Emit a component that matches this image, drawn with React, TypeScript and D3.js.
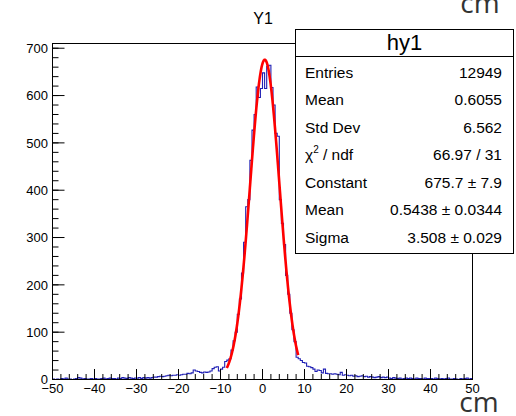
import React from "react";
import * as d3 from "d3";

// ---------- data ----------
const chartTitle = "Y1";
const histName = "hy1";
const xDomain = [-50, 50];
const yDomain = [0, 710];
const binWidth = 0.5;
const counts = [
  1, 0, 1, 0, 2, 1, 3, 1, 1, 0, 1, 2, 4, 3, 1, 2, 1, 1, 2, 1,
  2, 1, 1, 2, 3, 1, 2, 3, 2, 2, 1, 3, 2, 4, 3, 2, 4, 3, 2, 3,
  3, 4, 2, 4, 3, 4, 3, 4, 5, 5, 6, 7, 6, 7, 8, 9, 8, 9, 9, 10,
  9, 10, 11, 11, 13, 12, 14, 20, 18, 17, 15, 14, 16, 15, 16, 18, 23, 26, 27, 18,
  22, 26, 38, 41, 44, 62, 82, 100, 138, 170, 225, 290, 365, 380, 463, 527, 560, 618, 596, 615,
  648, 615, 662, 664, 617, 580, 520, 514, 380, 330, 285, 220, 180, 140, 105, 80, 47, 44, 40, 36,
  35, 28, 27, 25, 22, 17, 20, 19, 14, 22, 13, 12, 12, 11, 12, 11, 10, 15, 9, 10,
  9, 8, 9, 7, 8, 6, 7, 8, 6, 7, 5, 6, 5, 4, 5, 6, 4, 5, 4, 5,
  3, 2, 4, 3, 2, 3, 1, 2, 3, 2, 3, 2, 1, 3, 2, 2, 1, 3, 2, 2,
  2, 1, 3, 2, 1, 2, 1, 2, 3, 1, 1, 2, 1, 0, 2, 1, 2, 3, 1, 2,
];
// gaussian fit: constant, mean, sigma
const fitParams = [675.7, 0.5438, 3.508];
const fitRange = [-8.5, 8.5];
const xMajorTicks = [-50, -40, -30, -20, -10, 0, 10, 20, 30, 40, 50];
const xMinorStep = 2;
const yMajorTicks = [0, 100, 200, 300, 400, 500, 600, 700];
const yMinorStep = 20;
const statsLabels = ["Entries", "Mean", "Std Dev", "CHI2", "Constant", "Mean", "Sigma"];
const statsValues = ["12949", "0.6055", "6.562", "66.97 / 31", "675.7 ± 7.9", "0.5438 ± 0.0344", "3.508 ± 0.029"];
const unitLabel = "cm";

// ---------- layout ----------
const W = 516;
const H = 416;
const frame = { left: 52.5, right: 472.5, top: 43.5, bottom: 379.5 };
const box = { left: 295.5, right: 513.5, top: 29.5, bottom: 253.5, head: 56.5 };
const FONT = "'Liberation Sans', Arial, Helvetica, sans-serif";

const fmt = (v: number) => (v < 0 ? "\u2212" + Math.abs(v) : String(v));

export default function App() {
  const x = d3.scaleLinear().domain(xDomain).range([frame.left, frame.right]);
  const y = d3.scaleLinear().domain(yDomain).range([frame.bottom, frame.top]);

  const pts: [number, number][] = counts.map((c, i) => [xDomain[0] + i * binWidth, c]);
  pts.push([xDomain[0] + counts.length * binWidth, counts[counts.length - 1]]);
  const histLine = d3
    .line<[number, number]>()
    .x((d) => x(d[0]))
    .y((d) => y(d[1]))
    .curve(d3.curveStepAfter);

  const [A, mu, sig] = fitParams;
  const fitXs = d3.range(0, 301).map((k) => fitRange[0] + ((fitRange[1] - fitRange[0]) * k) / 300);
  const fitLine = d3
    .line<number>()
    .x((d) => x(d))
    .y((d) => y(A * Math.exp(-0.5 * ((d - mu) / sig) ** 2)));

  const xMinor = d3.range(xDomain[0], xDomain[1] + 0.001, xMinorStep);
  const yMinor = d3.range(yDomain[0], yDomain[1], yMinorStep);

  const rowY0 = 77.5;
  const rowStep = 27.5;

  return (
    <svg
      width={W}
      height={H}
      style={{ position: "absolute", left: 0, top: 0, background: "#fff" }}
      fontFamily={FONT}
    >
      <rect x={0} y={0} width={W} height={H} fill="#fff" />
      {/* title */}
      <text x={263} y={24} fontSize={16} textAnchor="middle" fill="#000">
        {chartTitle}
      </text>

      {/* histogram */}
      <path d={histLine(pts) || ""} fill="none" stroke="#1f1fb4" strokeWidth={1.1} />
      {/* fit */}
      <path d={fitLine(fitXs) || ""} fill="none" stroke="#ff0000" strokeWidth={2.6} strokeLinejoin="round" />

      {/* frame */}
      <rect
        x={frame.left}
        y={frame.top}
        width={frame.right - frame.left}
        height={frame.bottom - frame.top}
        fill="none"
        stroke="#000"
        strokeWidth={1}
      />

      {/* y ticks */}
      {yMinor.map((v) => (
        <line key={"ym" + v} x1={frame.left} x2={frame.left + 6} y1={y(v)} y2={y(v)} stroke="#000" />
      ))}
      {yMajorTicks.map((v) => (
        <g key={"yM" + v}>
          <line x1={frame.left} x2={frame.left + 12} y1={y(v)} y2={y(v)} stroke="#000" />
          <text x={48} y={y(v)} dy="0.36em" fontSize={13} textAnchor="end" fill="#000">
            {fmt(v)}
          </text>
        </g>
      ))}

      {/* x ticks */}
      {xMinor.map((v) => (
        <line key={"xm" + v} x1={x(v)} x2={x(v)} y1={frame.bottom} y2={frame.bottom - 5.5} stroke="#000" />
      ))}
      {xMajorTicks.map((v) => (
        <g key={"xM" + v}>
          <line x1={x(v)} x2={x(v)} y1={frame.bottom} y2={frame.bottom - 10.5} stroke="#000" />
          <text x={x(v)} y={393} fontSize={13} textAnchor="middle" fill="#000">
            {fmt(v)}
          </text>
        </g>
      ))}

      {/* stats box */}
      <rect
        x={box.left}
        y={box.top}
        width={box.right - box.left}
        height={box.bottom - box.top}
        fill="#fff"
        stroke="#000"
        strokeWidth={1}
      />
      <line x1={box.left} x2={box.right} y1={box.head} y2={box.head} stroke="#000" />
      <text x={(box.left + box.right) / 2} y={49.5} fontSize={22} textAnchor="middle" fill="#000">
        {histName}
      </text>
      {statsLabels.map((lab, i) => (
        <g key={"s" + i}>
          {lab === "CHI2" ? (
            <text x={305} y={rowY0 + i * rowStep} fontSize={15.5} fill="#000">
              {"\u03c7"}
              <tspan fontSize={10} dy={-7}>
                2
              </tspan>
              <tspan dy={7}>{" / ndf"}</tspan>
            </text>
          ) : (
            <text x={305} y={rowY0 + i * rowStep} fontSize={15.5} fill="#000">
              {lab}
            </text>
          )}
          <text x={502} y={rowY0 + i * rowStep} fontSize={15.5} textAnchor="end" fill="#000">
            {statsValues[i]}
          </text>
        </g>
      ))}

      {/* unit labels */}
      <text x={480} y={13} fontSize={28} textAnchor="middle" fill="#333" fontFamily="'Open Sans', sans-serif">
        {unitLabel}
      </text>
      <text x={479} y={412} fontSize={28} textAnchor="middle" fill="#333" fontFamily="'Open Sans', sans-serif">
        {unitLabel}
      </text>
    </svg>
  );
}
